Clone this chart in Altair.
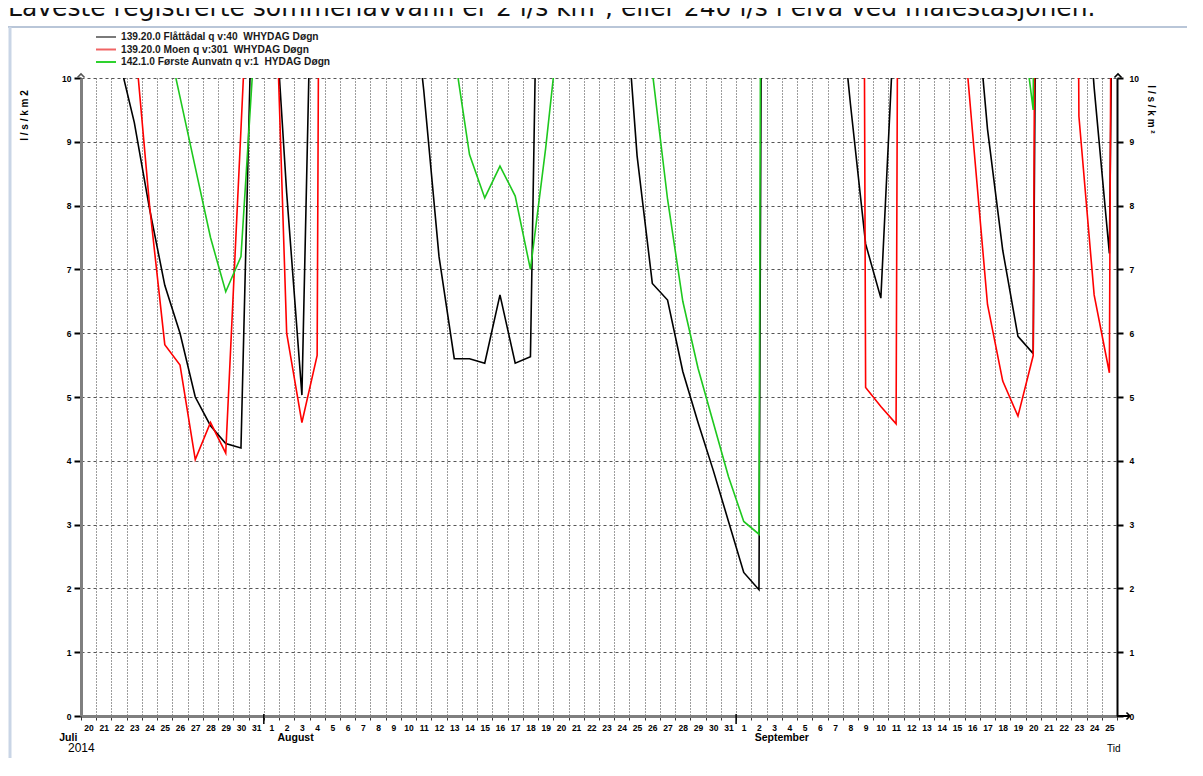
import altair as alt
import pandas as pd

# ---------------- data ----------------
series_names = [
    "139.20.0 Flåttådal q v:40\u00a0 WHYDAG Døgn",
    "139.20.0 Moen q v:301\u00a0 WHYDAG Døgn",
    "142.1.0 Første Aunvatn q v:1\u00a0 HYDAG Døgn",
]
series_colors = ["#000000", "#ff0000", "#1ec81e"]
legend_colors = ["#7a7a7a", "#f06464", "#2ed22e"]

# daily values (noon), 2014-07-20 .. 2014-09-26, l/s/km2 (values > 10 run off the top)
flattadal = [
    20, 14, 10.3, 9.3, 7.95, 6.75, 6.0, 5.0, 4.55, 4.27, 4.2, 14,
    12, 8.2, 5.03, 16, 25, 20, 18, 15, 14, 12, 9.8, 7.2, 5.6, 5.6, 5.53, 6.6, 5.53, 5.63,
    20, 30, 22, 16, 13, 12, 8.78, 6.78, 6.52, 5.4, 4.6, 3.85, 3.05,
    2.25, 1.98, 60, 45, 25, 16, 12, 9.6, 7.4, 6.55, 11.5, 18, 22, 16, 13, 11.9, 9.2, 7.3,
    5.95, 5.68, 40, 25, 13, 9.85, 7.25, 30,
]
moen = [
    25, 18, 14, 10.7, 8.0, 5.82, 5.5, 4.02, 4.6, 4.12, 9.2, 14.3,
    13.5, 6.0, 4.6, 5.65, 60, 45, 30, 25, 22, 20, 18, 16, 15, 14, 13.5, 14, 13, 12.5,
    40, 50, 35, 25, 20, 17, 15, 13.5, 13, 12.5, 12, 11.5, 11.2,
    10.8, 10.6, 60, 45, 30, 25, 20, 70, 5.15, 4.85, 4.58, 70, 40, 30, 12, 9.2, 6.45, 5.25,
    4.7, 5.65, 60, 50, 9.4, 6.6, 5.38, 60,
]
aunvatn = [
    30, 25, 20, 16, 13, 10.8, 9.7, 8.6, 7.5, 6.65, 7.2, 11,
    16, 22, 20, 25, 35, 30, 25, 20, 17, 15, 13, 12, 10.4, 8.8, 8.12, 8.62, 8.15, 7.0,
    8.9, 11.1, 14, 16, 15, 13, 11.5, 10.1, 8.1, 6.5, 5.45, 4.6, 3.75,
    3.05, 2.85, 80, 60, 40, 30, 25, 22, 20, 18, 16, 15, 14, 13.5, 13, 12.5, 12, 11.8,
    11.4, 9.5, 60, 40, 30, 25, 20, 18,
]
day_times = [d.strftime("%Y-%m-%dT%H:%M:%S") for d in pd.date_range("2014-07-20 12:00", periods=69, freq="D")]
tick_days = list(pd.date_range("2014-07-20", "2014-09-26", freq="D"))
month_names = ["Juli", "August", "September"]
month_label_at = ["2014-07-19T04:00:00", "2014-08-03T02:00:00", "2014-09-04T00:00:00"]
month_starts = ["2014-08-01T00:00:00", "2014-09-01T00:00:00"]
y_ticks = list(range(0, 11))
header = "Laveste registrerte sommerlavvann er 2 l/s km², eller 240 l/s i elva ved målestasjonen."

rows = []
for name, vals in zip(series_names, [flattadal, moen, aunvatn]):
    for t, v in zip(day_times, vals):
        rows.append({"date": t, "value": v, "series": name})
df = pd.DataFrame(rows)

# ---------------- layout ----------------
W, H = 1036, 638
LABEL_FONT = "Liberation Sans"

xscale = alt.Scale(domain=[alt.DateTime(year=2014, month=7, date=20),
                           alt.DateTime(year=2014, month=9, date=26)])
xaxis = alt.Axis(
    values=[alt.DateTime(year=d.year, month=d.month, date=d.day) for d in tick_days],
    labelExpr="(date(datum.value) == 26 && month(datum.value) == 8) ? '' : date(datum.value)",
    labelOffset=7.6, labelAlign="center", labelFlush=False, labelOverlap=False,
    labelFont=LABEL_FONT, labelFontSize=8.5, labelFontWeight="bold", labelColor="#000",
    labelPadding=3, tickSize=4, tickColor="#333",
    domainColor="#7f7f7f", domainWidth=3,
    grid=True, gridDash=[1, 2], gridColor="#3a3a3a", gridWidth=1, title=None,
)
x_enc = alt.X("date:T", scale=xscale, axis=xaxis)

yscale = alt.Scale(domain=[0, 10], nice=False, zero=True)
yaxis_left = alt.Axis(
    values=y_ticks, labelFont=LABEL_FONT, labelFontSize=8.5, labelFontWeight="bold",
    labelColor="#000", labelPadding=3, tickSize=7, tickWidth=2, tickColor="#000",
    domainColor="#7f7f7f", domainWidth=3,
    grid=True, gridDash=[3, 3], gridColor="#555", gridWidth=1,
    title="l / s / k m 2", titleFont=LABEL_FONT, titleFontSize=10, titleFontWeight="bold",
    titleAngle=270, titleX=-57, titleY=37, titleAlign="center", titleBaseline="middle",
)
yaxis_right = alt.Axis(
    orient="right", values=y_ticks, labelFont=LABEL_FONT, labelFontSize=8.5,
    labelFontWeight="bold", labelColor="#000", labelPadding=6, tickSize=6, tickWidth=2,
    tickColor="#000", domainColor="#000", domainWidth=2, grid=False,
    title="l / s / k m ²", titleFont=LABEL_FONT, titleFontSize=10, titleFontWeight="bold",
    titleAngle=90, titleX=33, titleY=31, titleAlign="center", titleBaseline="middle",
)

color_enc = alt.Color("series:N", scale=alt.Scale(domain=series_names, range=series_colors), legend=None)

lines = alt.Chart(df).mark_line(clip=True, strokeWidth=1.6).encode(
    x=x_enc, y=alt.Y("value:Q", scale=yscale, axis=yaxis_left), color=color_enc
)
right_axis = alt.Chart(df).mark_line(clip=True, strokeOpacity=0).encode(
    x=x_enc, y=alt.Y("value:Q", scale=yscale, axis=yaxis_right), detail="series:N"
)

one = alt.Data(values=[{}])
layers = [lines, right_axis]

# month boundary ticks on the time axis
layers.append(alt.Chart(pd.DataFrame({"date": month_starts})).mark_rule(color="#000", strokeWidth=1.5).encode(
    x=x_enc, y=alt.value(H - 2), y2=alt.value(H + 8)))
# month names
layers.append(alt.Chart(pd.DataFrame({"date": month_label_at, "m": month_names})).mark_text(
    font=LABEL_FONT, fontSize=10.5, fontWeight="bold", color="#000", align="center", baseline="middle"
).encode(x=x_enc, y=alt.value(H + 22), text="m:N"))

# legend (drawn)
for i, (name, col) in enumerate(zip(series_names, legend_colors)):
    yy = -41 + 12.5 * i
    layers.append(alt.Chart(one).mark_rule(color=col, strokeWidth=2).encode(
        x=alt.value(15), x2=alt.value(35), y=alt.value(yy)))
    layers.append(alt.Chart(one).mark_text(
        font=LABEL_FONT, fontSize=10.2, fontWeight="bold", color="#1a1a1a", align="left", baseline="middle"
    ).encode(x=alt.value(40), y=alt.value(yy), text=alt.value(name)))

# axis arrows
layers.append(alt.Chart(one).mark_point(shape="M-1,1L0,0L1,1", filled=False, size=50, color="#555", strokeWidth=1.6, opacity=1).encode(
    x=alt.value(0), y=alt.value(-4)))
layers.append(alt.Chart(one).mark_point(shape="M-1,1L0,0L1,1", filled=False, size=50, color="#000", strokeWidth=1.6, opacity=1).encode(
    x=alt.value(W + 1), y=alt.value(-4)))
layers.append(alt.Chart(one).mark_rule(color="#000", strokeWidth=2).encode(
    x=alt.value(W), x2=alt.value(W + 12), y=alt.value(H)))
layers.append(alt.Chart(one).mark_point(shape="M-1,-1L0,0L-1,1", filled=False, size=50, color="#000", strokeWidth=1.6, opacity=1).encode(
    x=alt.value(W + 13), y=alt.value(H)))

# header, year, axis name
layers.append(alt.Chart(one).mark_text(
    font="DejaVu Sans", fontSize=25, color="#111", align="left", baseline="alphabetic"
).encode(x=alt.value(-73), y=alt.value(-62), text=alt.value(header)))
layers.append(alt.Chart(one).mark_text(
    font=LABEL_FONT, fontSize=12, color="#000", align="left", baseline="middle"
).encode(x=alt.value(-13), y=alt.value(H + 32), text=alt.value("2014")))
layers.append(alt.Chart(one).mark_text(
    font=LABEL_FONT, fontSize=10, color="#000", align="left", baseline="middle"
).encode(x=alt.value(W - 10), y=alt.value(H + 33), text=alt.value("Tid")))

# window frame lines
layers.append(alt.Chart(one).mark_rule(color="#b9c6d8", strokeWidth=2).encode(
    x=alt.value(-73), x2=alt.value(W + 70), y=alt.value(-51)))
layers.append(alt.Chart(one).mark_rule(color="#c9d5e6", strokeWidth=3).encode(
    x=alt.value(-71), y=alt.value(-51), y2=alt.value(H + 60)))

chart = alt.layer(*layers).resolve_scale(y="independent").properties(
    width=W, height=H,
    padding={"left": 73, "top": 70, "right": 70, "bottom": 42},
    autosize=alt.AutoSizeParams(type="none"),
).configure_view(stroke=None)

chart.save("out.html", embed_options={"renderer": "svg", "actions": False})
